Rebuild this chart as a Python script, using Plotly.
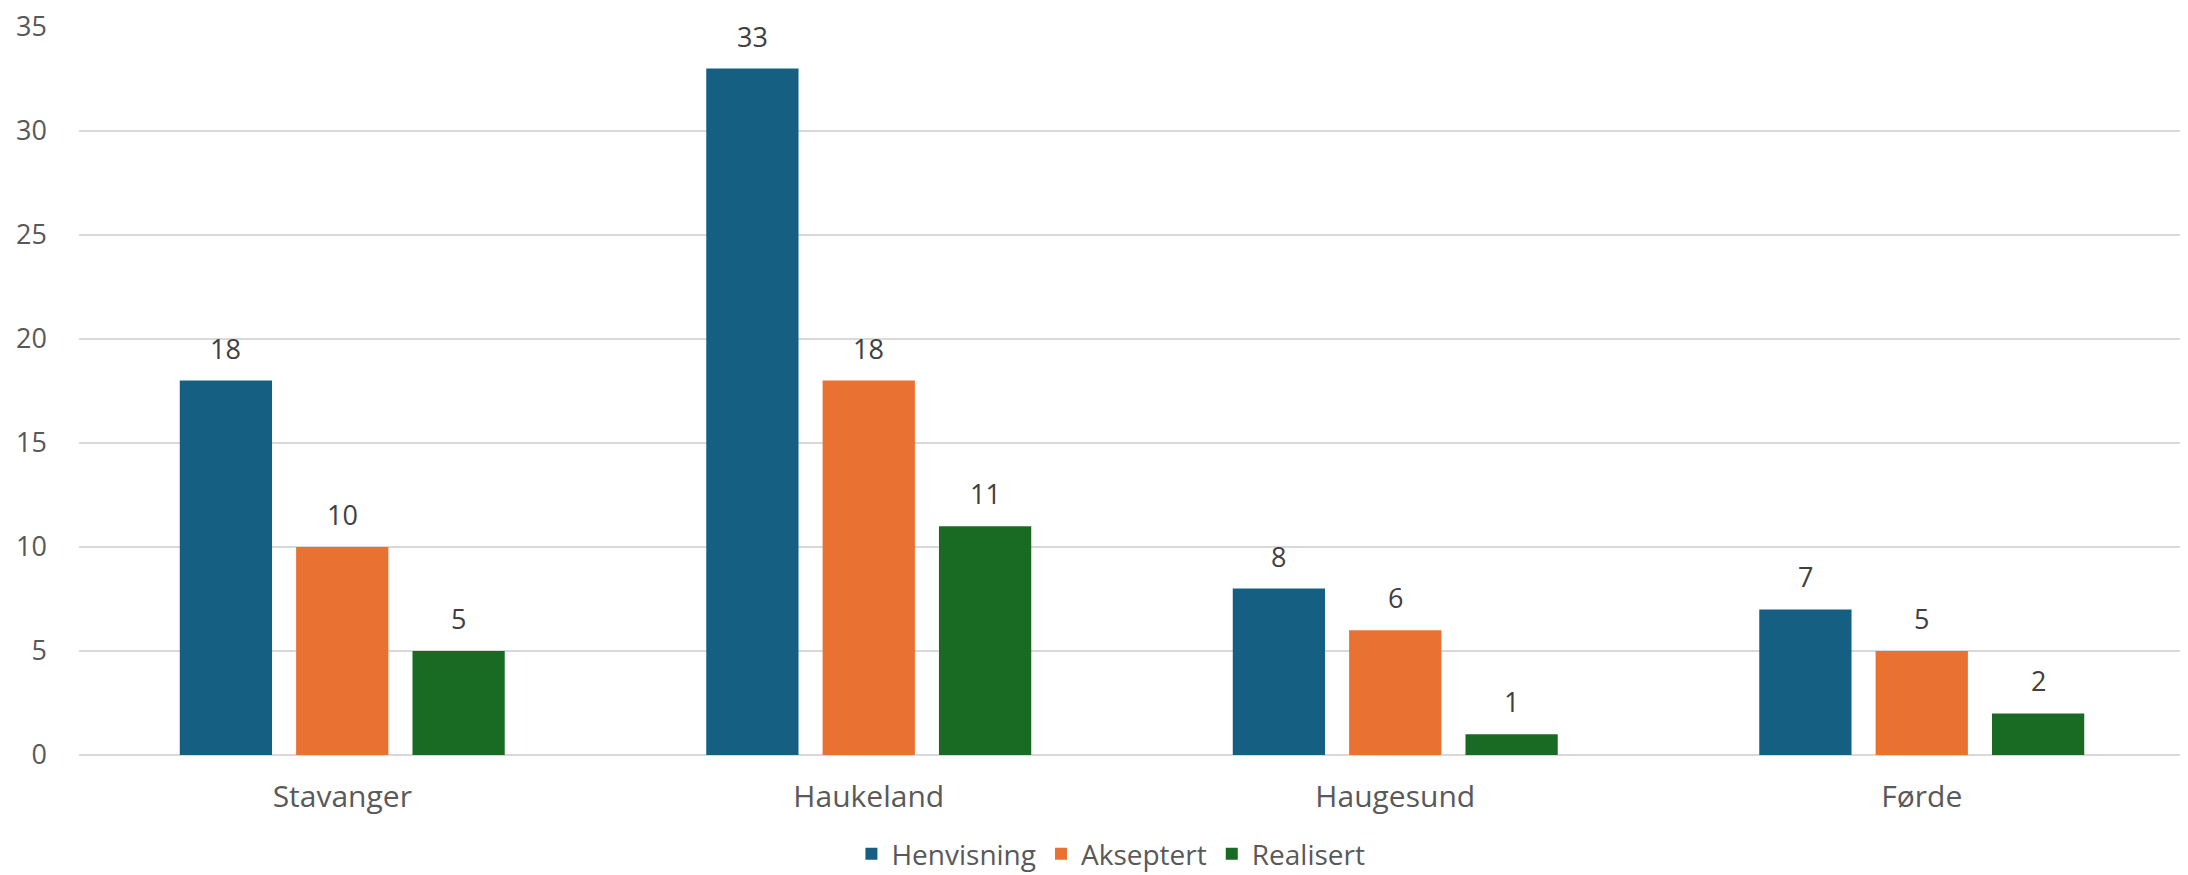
import plotly.graph_objects as go

categories = ["Stavanger", "Haukeland", "Haugesund", "Førde"]
series_names = ["Henvisning", "Akseptert", "Realisert"]
henvisning = [18, 33, 8, 7]
akseptert = [10, 18, 6, 5]
realisert = [5, 11, 1, 2]
colors = ["#156082", "#E97132", "#196B24"]

# the page body adds an 8px margin around the figure
W, H = 2180, 867
ML, MR, MT, MB = 71, 3, 19, 120
bargap = 0.337
plot_w = W - ML - MR
plot_h = H - MT - MB
slot_px = (plot_w / len(categories)) * (1 - bargap) / 3
FONT = "Open Sans, Liberation Sans, Arial, sans-serif"

fig = go.Figure()
all_series = [henvisning, akseptert, realisert]
for i, (name, vals, col) in enumerate(zip(series_names, all_series, colors)):
    fig.add_trace(go.Bar(x=categories, y=vals, name=name, marker_color=col,
                         marker_line_width=0))
    for c, v in zip(categories, vals):
        fig.add_annotation(x=c, y=v, text=str(v), showarrow=False,
                           xanchor="center", yanchor="bottom",
                           xshift=(i - 1) * slot_px, yshift=12,
                           font=dict(family=FONT, size=27, color="#404040"))

fig.update_layout(
    width=W, height=H,
    margin=dict(l=ML, r=MR, t=MT, b=MB, autoexpand=False),
    paper_bgcolor="white", plot_bgcolor="white",
    barmode="group", bargap=bargap, bargroupgap=0.207,
    font=dict(family=FONT, size=27, color="#595959"),
    legend=dict(orientation="h", x=0.49, xanchor="center", y=-99 / plot_h,
                yanchor="middle",
                font=dict(family=FONT, size=28, color="#595959"),
                tracegroupgap=0),
    xaxis=dict(showgrid=False, showline=False, ticks="", ticklabelstandoff=21,
               automargin=False, tickfont=dict(size=30, color="#595959")),
    yaxis=dict(range=[0, 35], dtick=5, showgrid=True, gridcolor="#D9D9D9", gridwidth=2,
               zeroline=True, zerolinecolor="#D9D9D9", zerolinewidth=2,
               showline=False, ticks="", ticklabelstandoff=31, automargin=False,
               ticklabeloverflow="allow",
               tickfont=dict(size=27, color="#595959")),
)
fig.write_html("out.html")
